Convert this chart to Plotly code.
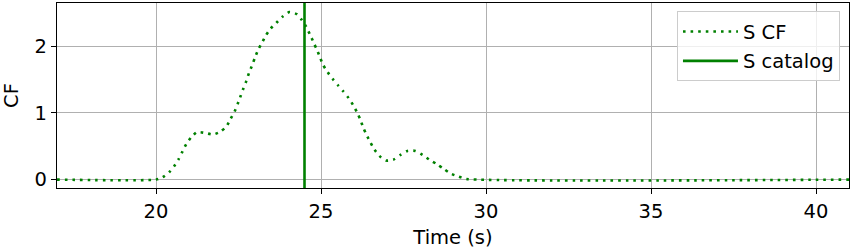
import plotly.graph_objects as go

time_s = [17.0, 20.0, 20.2, 20.4, 20.55, 20.69, 20.8, 20.92, 21.06, 21.24, 21.48, 21.73, 21.96,
          22.14, 22.26, 22.38, 22.48, 22.57, 22.65, 22.74, 22.82, 22.92, 23.0, 23.1, 23.21,
          23.33, 23.47, 23.65, 23.83, 24.04, 24.26, 24.42, 24.55, 24.67, 24.78, 24.88, 24.98,
          25.06, 25.2, 25.35, 25.52, 25.68, 25.84, 25.97, 26.09, 26.19, 26.28, 26.38, 26.5,
          26.62, 26.77, 26.97, 27.2, 27.41, 27.62, 27.86, 28.08, 28.28, 28.5, 28.72, 28.93,
          29.17, 29.4, 41.0]
s_cf = [0.0, 0.0, 0.035, 0.11, 0.2, 0.31, 0.42, 0.535, 0.63, 0.71, 0.70, 0.675, 0.72,
        0.80, 0.91, 1.02, 1.14, 1.26, 1.37, 1.48, 1.6, 1.72, 1.83, 1.95, 2.05,
        2.16, 2.26, 2.35, 2.44, 2.51, 2.48, 2.39, 2.29, 2.17, 2.05, 1.94, 1.82,
        1.72, 1.61, 1.51, 1.41, 1.32, 1.22, 1.12, 1.01, 0.9, 0.78, 0.67, 0.555,
        0.45, 0.355, 0.285, 0.30, 0.37, 0.43, 0.43, 0.37, 0.30, 0.235, 0.16, 0.09,
        0.045, 0.01, 0.0]
s_catalog = 24.5
x_range = [17, 41]
y_range = [-0.126, 2.646]
x_ticks = [20, 25, 30, 35, 40]
y_ticks = [0, 1, 2]

GREEN = "#008000"
FONT = "DejaVu Sans"
FS = 19.5

fig = go.Figure()
fig.add_trace(go.Scatter(x=time_s, y=s_cf, mode="lines", name="S CF", legendgroup="a",
                         line=dict(color=GREEN, width=2.6, dash="2.6px,5px", shape="spline", smoothing=0.6)))
fig.add_trace(go.Scatter(x=[s_catalog, s_catalog], y=y_range, mode="lines", name="S catalog", legendgroup="b",
                         line=dict(color=GREEN, width=2.6)))

axis_common = dict(showline=True, linecolor="black", linewidth=1.2, mirror=True,
                   ticks="outside", ticklen=5, tickcolor="black", tickwidth=1.2,
                   showgrid=True, gridcolor="#b0b0b0", gridwidth=1, zeroline=False,
                   tickfont=dict(family=FONT, size=FS, color="black"))

fig.update_xaxes(range=x_range, tickvals=x_ticks,
                 title=dict(text="Time (s)", font=dict(family=FONT, size=FS, color="black"), standoff=8),
                 **axis_common)
fig.update_yaxes(range=y_range, tickvals=y_ticks,
                 title=dict(text="CF", font=dict(family=FONT, size=FS, color="black"), standoff=10),
                 **axis_common)

fig.update_layout(
    width=853, height=250,
    margin=dict(l=57, r=4, t=3, b=62),
    plot_bgcolor="white", paper_bgcolor="white",
    font=dict(family=FONT, size=FS, color="black"),
    legend=dict(x=0.9886, y=0.955, xanchor="right", yanchor="top",
                bgcolor="rgba(255,255,255,0.8)", bordercolor="#cccccc", borderwidth=1,
                font=dict(family=FONT, size=FS, color="black"),
                itemwidth=55, tracegroupgap=1),
)

fig.write_html("out.html")
